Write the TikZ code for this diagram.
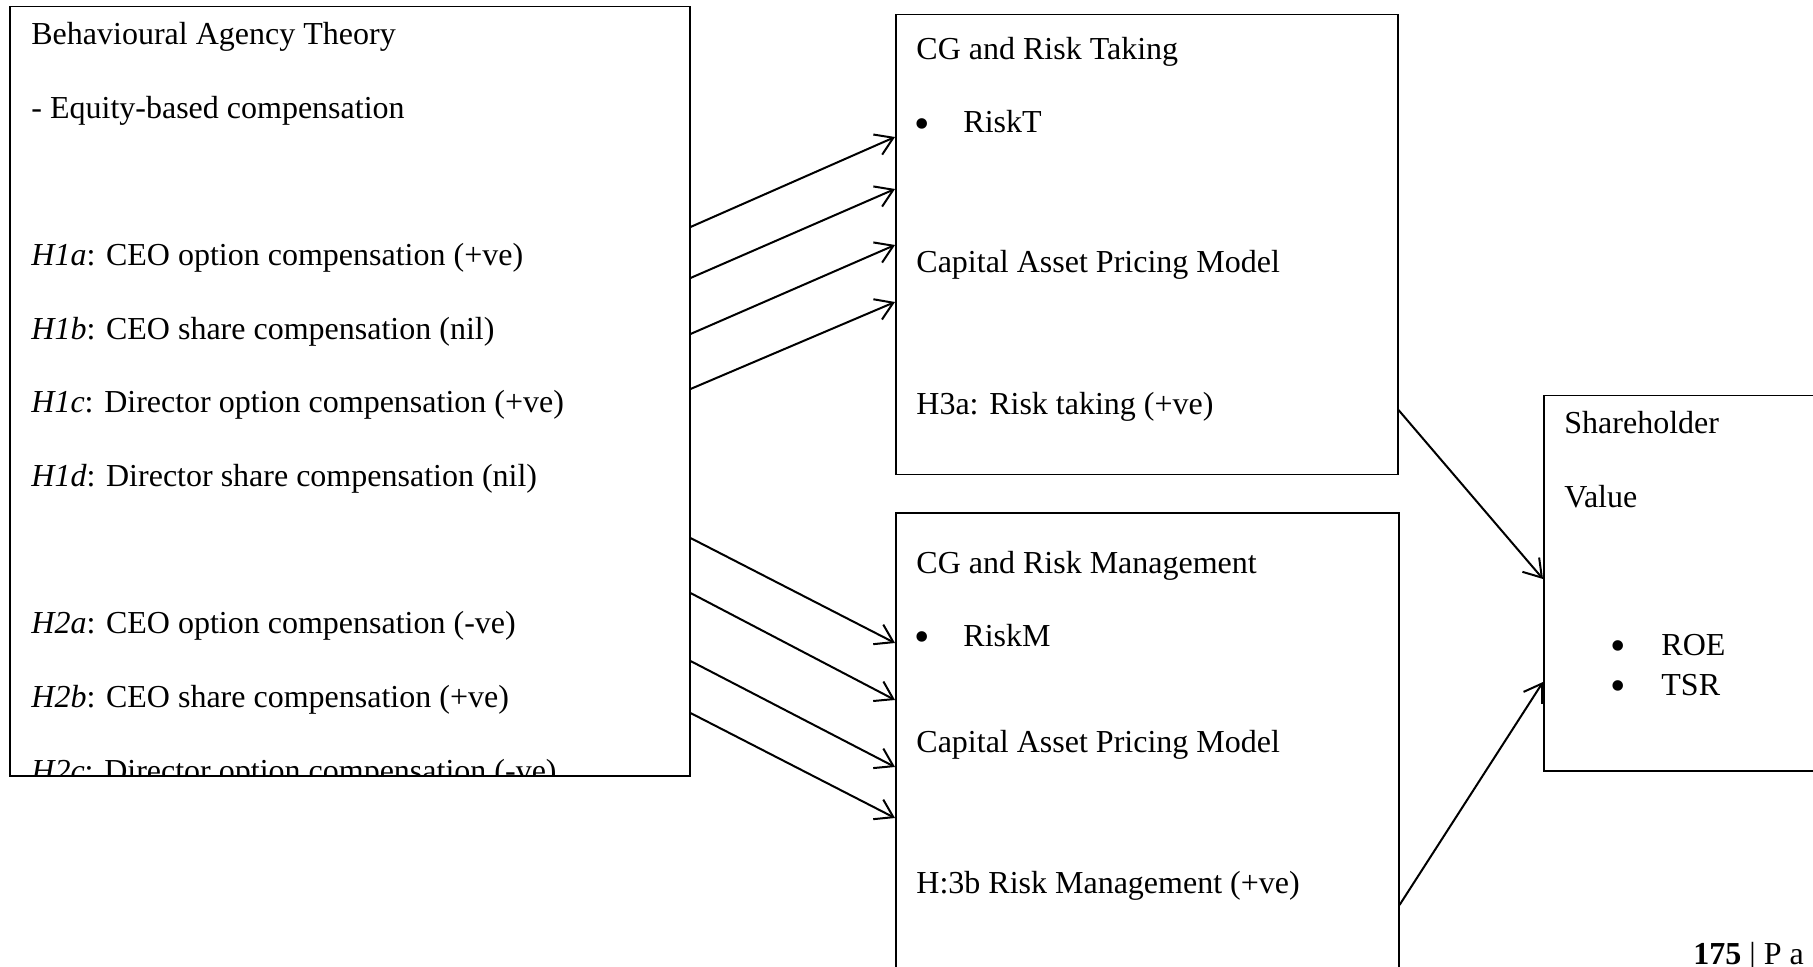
\documentclass[tikz,border=0pt]{standalone}
\usepackage{fontspec}
\setmainfont{Liberation Serif}
\usetikzlibrary{arrows.meta}

\tikzset{
  box/.style={draw=black, line width=0.75pt, inner sep=0pt, anchor=north west},
  txt/.style={anchor=base west, inner sep=0pt, font=\fontsize{16}{19}\selectfont},
  dot/.style={anchor=base west, inner sep=0pt, font=\fontsize{22}{22}\selectfont},
  arr/.style={line width=1pt, -{Straight Barb[length=8.5pt,width=11pt,line width=1pt]}},
}

\begin{document}
\begin{tikzpicture}[x=0.5pt,y=-0.5pt]
\useasboundingbox (0,0) rectangle (1813,967);
\clip (0,0) rectangle (1813,967);

% boxes
\node[box, minimum width=340pt, minimum height=384.5pt] (bat) at (9,6) {};
\node[box, minimum width=251pt, minimum height=230pt] (rt) at (895,14) {};
\node[box, minimum width=251.5pt, minimum height=240pt] (rm) at (895,512) {};
\node[box, minimum width=143.5pt, minimum height=187.5pt] (sv) at (1543,395) {};

% left box text, cut off at the frame
\begin{scope}
\clip (9,6) rectangle (689,775);
\node[txt] (t0) at (31,45) {Behavioural Agency Theory};
\node[txt] (t1) at (31,118.6) {- Equity-based compensation};
\node[txt] (h1a) at (31,265.8) {\textit{H1a}: CEO option compensation (+ve)};
\node[txt] (h1b) at (31,339.4) {\textit{H1b}: CEO share compensation (nil)};
\node[txt] (h1c) at (31,413) {\textit{H1c}: Director option compensation (+ve)};
\node[txt] (h1d) at (31,486.6) {\textit{H1d}: Director share compensation (nil)};
\node[txt] (h2a) at (31,633.8) {\textit{H2a}: CEO option compensation (-ve)};
\node[txt] (h2b) at (31,707.4) {\textit{H2b}: CEO share compensation (+ve)};
\node[txt] (h2c) at (31,781) {\textit{H2c}: Director option compensation (-ve)};
\end{scope}

% risk taking box
\node[txt] (rt0) at (916,60) {CG and Risk Taking};
\node[dot] (rtb) at (914,138.5) {•};
\node[txt] (rt1) at (963,133) {RiskT};
\node[txt] (rt2) at (916,273) {Capital Asset Pricing Model};
\node[txt] (rt3) at (916,415) {H3a: Risk taking (+ve)};

% risk management box
\node[txt] (rm0) at (916,573) {CG and Risk Management};
\node[dot] (rmb) at (914,651.5) {•};
\node[txt] (rm1) at (963,646) {RiskM};
\node[txt] (rm2) at (916,752) {Capital Asset Pricing Model};
\node[txt] (rm3) at (916,893) {H:3b Risk Management (+ve)};

% shareholder value box
\node[txt] (sv0) at (1564,434) {Shareholder};
\node[txt] (sv1) at (1564,508) {Value};
\node[dot] (svb1) at (1610,660.5) {•};
\node[txt] (sv2) at (1661,655) {ROE};
\node[dot] (svb2) at (1610,700.5) {•};
\node[txt] (sv3) at (1661,695) {TSR};

% page footer
\node[txt] (pg) at (1693,964) {\textbf{175} | P a};

% connector end points on the box frames
\coordinate (u1s) at (bat.east |- 0,227);
\coordinate (u2s) at (bat.east |- 0,278);
\coordinate (u3s) at (bat.east |- 0,334);
\coordinate (u4s) at (bat.east |- 0,389);
\coordinate (u1e) at (rt.west |- 0,137);
\coordinate (u2e) at (rt.west |- 0,189);
\coordinate (u3e) at (rt.west |- 0,245);
\coordinate (u4e) at (rt.west |- 0,302);

\coordinate (l1s) at (bat.east |- 0,538);
\coordinate (l2s) at (bat.east |- 0,593);
\coordinate (l3s) at (bat.east |- 0,661);
\coordinate (l4s) at (bat.east |- 0,713);
\coordinate (l1e) at (rm.west |- 0,643);
\coordinate (l2e) at (rm.west |- 0,700);
\coordinate (l3e) at (rm.west |- 0,767);
\coordinate (l4e) at (rm.west |- 0,818);

\coordinate (r1s) at (rt.east |- 0,410);
\coordinate (r1e) at (sv.west |- 0,579);
\coordinate (r2s) at (rm.east |- 0,905);
\coordinate (r2e) at (sv.west |- 0,682);

% connectors
\draw[arr] (u1s) -- (u1e);
\draw[arr] (u2s) -- (u2e);
\draw[arr] (u3s) -- (u3e);
\draw[arr] (u4s) -- (u4e);
\draw[arr] (l1s) -- (l1e);
\draw[arr] (l2s) -- (l2e);
\draw[arr] (l3s) -- (l3e);
\draw[arr] (l4s) -- (l4e);
\draw[arr] (r1s) -- (r1e);
\draw[arr] (r2s) -- (r2e);
\end{tikzpicture}
\end{document}
